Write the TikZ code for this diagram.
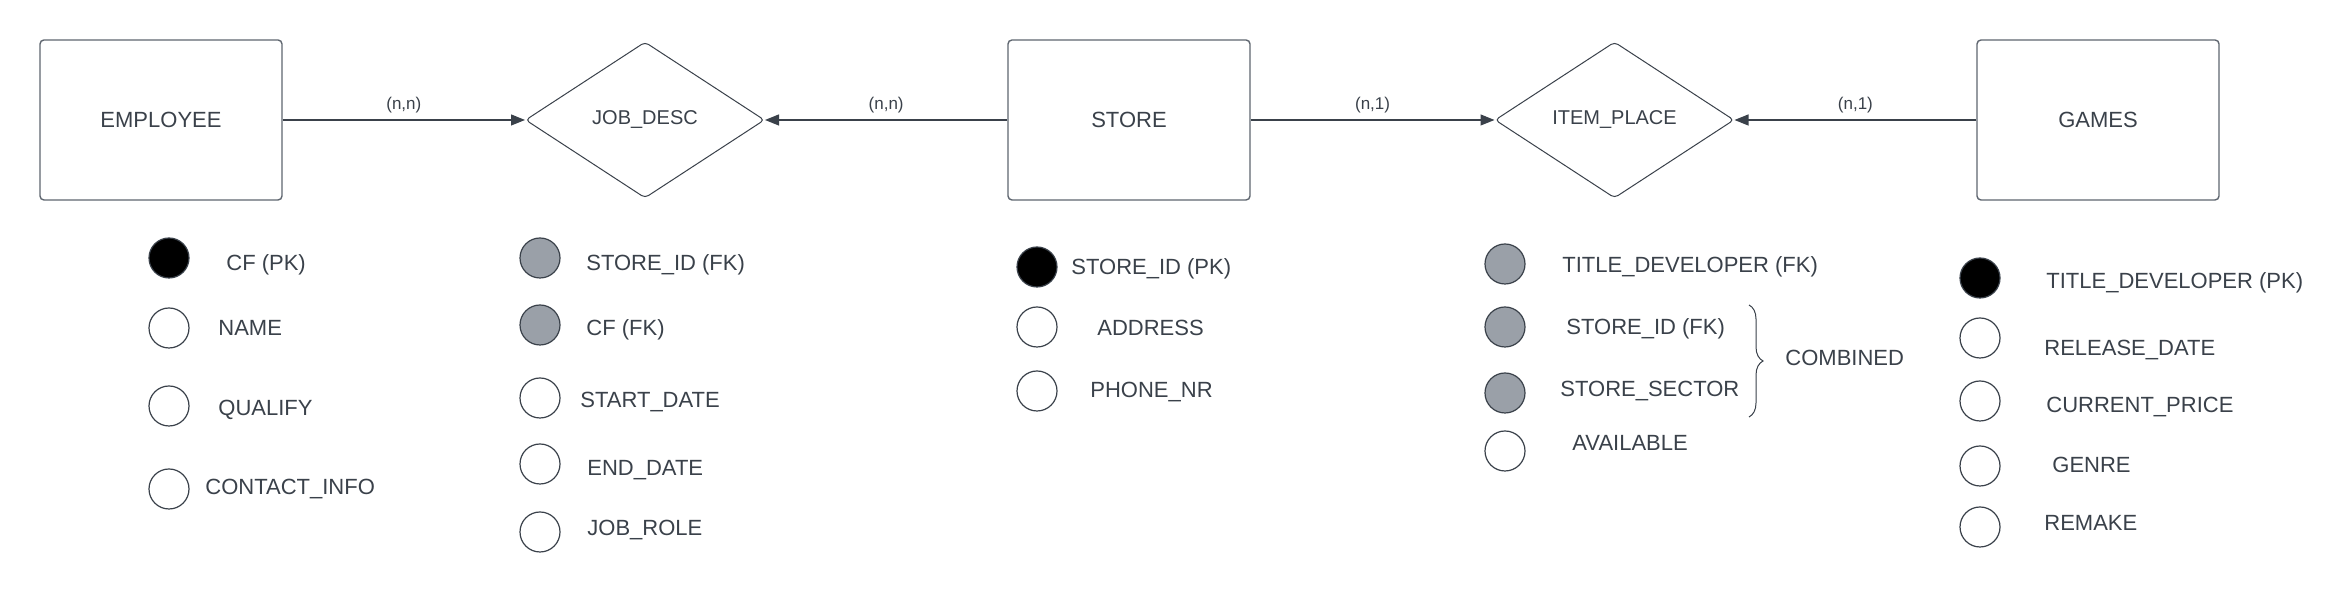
\documentclass[tikz,border=0pt]{standalone}
\usepackage{fontspec}
\setmainfont{Liberation Sans}
\usetikzlibrary{shapes.geometric,arrows.meta,decorations.pathreplacing}

\definecolor{ink}{HTML}{3A414A}
\definecolor{fkfill}{HTML}{9AA0A8}
\definecolor{rim}{HTML}{5F6670}

\begin{document}
\begin{tikzpicture}[x=50pt,y=50pt,
    entity/.style={draw=rim, line width=0.7pt, rounded corners=2pt, minimum width=121pt, minimum height=80pt, text=ink, font=\fontsize{11}{13}\selectfont},
    relation/.style={diamond, aspect=1.6, draw=ink, line width=0.5pt, rounded corners=2pt, minimum width=119.5pt, minimum height=78pt, inner sep=0pt, text=ink, font=\fontsize{10}{12}\selectfont},
    rel/.style={draw=ink, line width=0.6pt, -{Triangle[length=7pt,width=5.5pt]}},
    card/.style={text=ink, font=\fontsize{8.5}{10}\selectfont, midway, above=0pt},
    attr/.style={circle, draw=ink, line width=0.6pt, minimum size=20pt, inner sep=0pt, fill=white},
    pk/.style={attr, fill=black},
    fk/.style={attr, fill=fkfill},
    lbl/.style={anchor=west, text=ink, font=\fontsize{11}{13}\selectfont, inner sep=0pt, text height=7.9pt, text depth=0pt},
    brace/.style={draw=ink, line width=0.5pt, decorate, decoration={brace, amplitude=7pt}}
  ]
    \path[fill=white, use as bounding box] (0,0) rectangle (23.5,6.03);

    % entities and relations
    \node[entity] (employee) at (1.61,4.83) {EMPLOYEE};
    \node[relation] (jobdesc) at (6.45,4.83) {JOB\_DESC};
    \node[entity] (store) at (11.29,4.83) {STORE};
    \node[relation] (itemplace) at (16.145,4.83) {ITEM\_PLACE};
    \node[entity] (games) at (20.98,4.83) {GAMES};

    % links with cardinalities
    \draw[rel] (employee) -- node[card] (card1) {(n,n)} (jobdesc);
    \draw[rel] (store) -- node[card] (card2) {(n,n)} (jobdesc);
    \draw[rel] (store) -- node[card] (card3) {(n,1)} (itemplace);
    \draw[rel] (games) -- node[card] (card4) {(n,1)} (itemplace);

    % EMPLOYEE attributes
    \node[pk] (emp1) at (1.69,3.45) {};
    \node[lbl] (emp1t) at (2.26,3.40) {CF (PK)};
    \node[attr] (emp2) at (1.69,2.75) {};
    \node[lbl] (emp2t) at (2.18,2.75) {NAME};
    \node[attr] (emp3) at (1.69,1.97) {};
    \node[lbl] (emp3t) at (2.18,1.95) {QUALIFY};
    \node[attr] (emp4) at (1.69,1.14) {};
    \node[lbl] (emp4t) at (2.05,1.16) {CONTACT\_INFO};

    % JOB_DESC attributes
    \node[fk] (job1) at (5.40,3.45) {};
    \node[lbl] (job1t) at (5.86,3.40) {STORE\_ID (FK)};
    \node[fk] (job2) at (5.40,2.78) {};
    \node[lbl] (job2t) at (5.86,2.75) {CF (FK)};
    \node[attr] (job3) at (5.40,2.05) {};
    \node[lbl] (job3t) at (5.80,2.03) {START\_DATE};
    \node[attr] (job4) at (5.40,1.39) {};
    \node[lbl] (job4t) at (5.87,1.35) {END\_DATE};
    \node[attr] (job5) at (5.40,0.71) {};
    \node[lbl] (job5t) at (5.87,0.75) {JOB\_ROLE};

    % STORE attributes
    \node[pk] (sto1) at (10.37,3.36) {};
    \node[lbl] (sto1t) at (10.71,3.36) {STORE\_ID (PK)};
    \node[attr] (sto2) at (10.37,2.76) {};
    \node[lbl] (sto2t) at (10.97,2.75) {ADDRESS};
    \node[attr] (sto3) at (10.37,2.12) {};
    \node[lbl] (sto3t) at (10.90,2.13) {PHONE\_NR};

    % ITEM_PLACE attributes
    \node[fk] (itm1) at (15.05,3.39) {};
    \node[lbl] (itm1t) at (15.62,3.38) {TITLE\_DEVELOPER (FK)};
    \node[fk] (itm2) at (15.05,2.76) {};
    \node[lbl] (itm2t) at (15.66,2.76) {STORE\_ID (FK)};
    \node[fk] (itm3) at (15.05,2.10) {};
    \node[lbl] (itm3t) at (15.60,2.14) {STORE\_SECTOR};
    \node[attr] (itm4) at (15.05,1.52) {};
    \node[lbl] (itm4t) at (15.72,1.60) {AVAILABLE};
    \coordinate (bracetop) at (17.49,2.98);
    \coordinate (bracebot) at (17.49,1.86);
    \draw[brace] (bracetop) -- (bracebot);
    \node[lbl] (combined) at (17.85,2.45) {COMBINED};

    % GAMES attributes
    \node[pk] (gam1) at (19.80,3.25) {};
    \node[lbl] (gam1t) at (20.46,3.22) {TITLE\_DEVELOPER (PK)};
    \node[attr] (gam2) at (19.80,2.65) {};
    \node[lbl] (gam2t) at (20.44,2.55) {RELEASE\_DATE};
    \node[attr] (gam3) at (19.80,2.02) {};
    \node[lbl] (gam3t) at (20.46,1.98) {CURRENT\_PRICE};
    \node[attr] (gam4) at (19.80,1.37) {};
    \node[lbl] (gam4t) at (20.52,1.38) {GENRE};
    \node[attr] (gam5) at (19.80,0.76) {};
    \node[lbl] (gam5t) at (20.44,0.80) {REMAKE};
  \end{tikzpicture}
\end{document}
